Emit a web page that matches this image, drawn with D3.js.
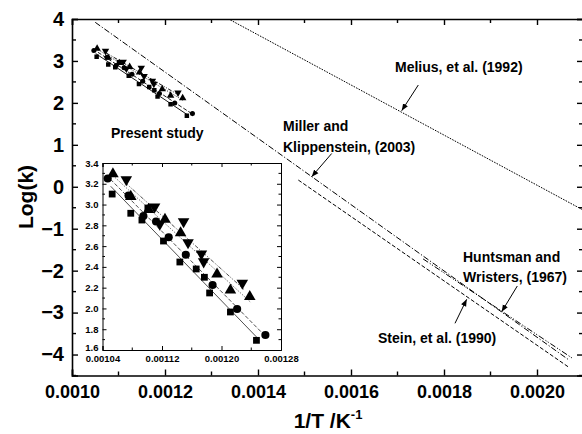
<!DOCTYPE html>
<html><head><meta charset="utf-8">
<script src="https://cdn.jsdelivr.net/npm/d3@7"></script>
<style>
html,body{margin:0;padding:0;background:#fff;}
svg{display:block;font-family:"Liberation Sans",Arial,sans-serif;font-weight:bold;}
</style></head>
<body>
<svg id="c" width="582" height="434"></svg>
<script>
// ---------- data (1/T in K^-1, log k) ----------
const squareData = [[0.001053,3.101],[0.001078,2.916],[0.001093,2.851],[0.001101,2.967],[0.001122,2.649],[0.001144,2.447],[0.001166,2.380],[0.001177,2.300],[0.001184,2.149],[0.001212,1.966],[0.001247,1.693]];
const circleData = [[0.001047,3.251],[0.001075,3.087],[0.001095,2.890],[0.001112,2.837],[0.001129,2.685],[0.001152,2.517],[0.001188,2.226],[0.001221,1.995],[0.001259,1.744]];
const upTriData = [[0.001054,3.294],[0.001078,3.077],[0.001102,2.952],[0.001124,2.858],[0.001145,2.726],[0.001194,2.331],[0.001212,2.175],[0.001238,2.113]];
const downTriData = [[0.001072,3.240],[0.001110,2.979],[0.001117,2.813],[0.001149,2.837],[0.001155,2.635],[0.001173,2.526],[0.001176,2.450],[0.001228,2.245]];

const meliusLine = [[0.00133,4.04],[0.00210,-0.56]];
const millerLine = [[0.00105,3.92],[0.00207,-4.14]];
const huntsmanLine = [[0.001755,-1.72],[0.002075,-4.08]];
const steinLine = [[0.0014867,0.16],[0.0020667,-4.29]];

const xTicksMain = [0.0010,0.0012,0.0014,0.0016,0.0018,0.0020];
const xTickLabelsMain = ["0.0010","0.0012","0.0014","0.0016","0.0018","0.0020"];
const yTicksMain = [-4,-3,-2,-1,0,1,2,3,4];
const xTicksInset = [0.00104,0.00112,0.00120,0.00128];
const xTickLabelsInset = ["0.00104","0.00112","0.00120","0.00128"];
const yTicksInset = [1.6,1.8,2.0,2.2,2.4,2.6,2.8,3.0,3.2,3.4];

const svg = d3.select("#c");

// ---------- scales ----------
const x = d3.scaleLinear().domain([0.0010,0.0021]).range([72,583.5]);
const y = d3.scaleLinear().domain([-4.5,4]).range([375.5,19]);
const xi = d3.scaleLinear().domain([0.00104,0.00128]).range([102.5,281]);
const yi = d3.scaleLinear().domain([1.6,3.4]).range([350,163]);

svg.append("defs").append("clipPath").attr("id","mainclip")
  .append("rect").attr("x",72).attr("y",19).attr("width",511.5).attr("height",356.5);
svg.select("defs").append("marker").attr("id","arr").attr("viewBox","0 0 10 10")
  .attr("refX",10).attr("refY",5).attr("markerWidth",7).attr("markerHeight",7)
  .attr("markerUnits","userSpaceOnUse").attr("orient","auto")
  .append("path").attr("d","M0,1 L10,5 L0,9 Z").attr("fill","#000");

function fit(data){
  const mx=d3.mean(data,d=>d[0]), my=d3.mean(data,d=>d[1]);
  const b=d3.sum(data,d=>(d[0]-mx)*(d[1]-my))/d3.sum(data,d=>(d[0]-mx)**2);
  const a=my-b*mx;
  const x0=d3.min(data,d=>d[0])-0.000002, x1=d3.max(data,d=>d[0])+0.000002;
  return [[x0,a+b*x0],[x1,a+b*x1]];
}

const series = [
  {data:squareData, sym:d3.symbolSquare, rot:0, dash:null},
  {data:circleData, sym:d3.symbolCircle, rot:0, dash:"4,2"},
  {data:upTriData, sym:d3.symbolTriangle, rot:0, dash:"1,1.5"},
  {data:downTriData, sym:d3.symbolTriangle, rot:180, dash:"4,1.5,1,1.5,1,1.5"}
];

// ---------- main plot ----------
const main = svg.append("g").attr("clip-path","url(#mainclip)");
const lineMain = d3.line().x(d=>x(d[0])).y(d=>y(d[1]));
[[meliusLine,"1.6,1.2"],[millerLine,"6,2,1.2,2"],[huntsmanLine,"6,2,1.2,1.5,1.2,2"],[steinLine,"4,2"]].forEach(([l,da])=>{
  main.append("path").attr("d",lineMain(l)).attr("fill","none").attr("stroke","#000")
    .attr("stroke-width",1).attr("stroke-dasharray",da);
});
series.forEach(s=>{
  main.append("path").attr("d",lineMain(fit(s.data))).attr("fill","none").attr("stroke","#000")
    .attr("stroke-width",0.9).attr("stroke-dasharray",s.dash);
  const sizes = s.sym===d3.symbolTriangle?24:20;
  main.selectAll(null).data(s.data).enter().append("path")
    .attr("d",d3.symbol().type(s.sym).size(sizes))
    .attr("transform",d=>`translate(${x(d[0])},${y(d[1])}) rotate(${s.rot})`)
    .attr("fill","#000");
});

// main axes
const axB = d3.axisBottom(x).tickValues(xTicksMain).tickFormat((d,i)=>xTickLabelsMain[i]).tickSize(-6).tickPadding(10);
const gB = svg.append("g").attr("transform","translate(0,375.5)").call(axB);
const axL = d3.axisLeft(y).tickValues(yTicksMain).tickFormat(d3.format("d")).tickSize(-6).tickPadding(8);
const gL = svg.append("g").attr("transform","translate(72,0)").call(axL);
const gT = svg.append("g").attr("transform","translate(0,19)").call(d3.axisTop(x).tickValues(xTicksMain).tickSize(-6).tickFormat(""));
const gR = svg.append("g").attr("transform","translate(583,0)").call(d3.axisRight(y).tickValues(yTicksMain).tickSize(-6).tickFormat(""));
// minor ticks
const xMinor = d3.range(0.0011,0.0021,0.0002);
const yMinor = d3.range(-4.5,4,1);
xMinor.forEach(v=>{
  svg.append("line").attr("x1",x(v)).attr("x2",x(v)).attr("y1",375.5).attr("y2",371.5).attr("stroke","#000").attr("stroke-width",1.4);
  svg.append("line").attr("x1",x(v)).attr("x2",x(v)).attr("y1",19).attr("y2",23).attr("stroke","#000").attr("stroke-width",1.4);
});
yMinor.forEach(v=>{
  svg.append("line").attr("x1",72).attr("x2",76).attr("y1",y(v)).attr("y2",y(v)).attr("stroke","#000").attr("stroke-width",1.4);
  svg.append("line").attr("x1",583).attr("x2",579).attr("y1",y(v)).attr("y2",y(v)).attr("stroke","#000").attr("stroke-width",1.4);
});
[gB,gL,gT,gR].forEach(g=>{
  g.select(".domain").attr("stroke-width",1.6);
  g.selectAll(".tick line").attr("stroke-width",1.4);
  g.selectAll("text").attr("font-family","Liberation Sans, Arial, sans-serif").attr("font-weight","bold").attr("fill","#000");
});
gB.selectAll("text").attr("font-size",18);
gL.selectAll("text").attr("font-size",20);

// axis titles
svg.append("text").attr("transform","translate(33,197) rotate(-90)").attr("text-anchor","middle")
  .attr("font-size",21).text("Log(k)");
const xt = svg.append("text").attr("x",328).attr("y",428).attr("text-anchor","middle").attr("font-size",21);
xt.append("tspan").text("1/T /K");
xt.append("tspan").attr("dy",-9).attr("font-size",13).text("-1");

// annotations
const ann = svg.append("g").attr("font-size",14);
ann.append("text").attr("x",111).attr("y",138).text("Present study");
ann.append("text").attr("x",395).attr("y",71.5).text("Melius, et al. (1992)");
ann.append("text").attr("x",283).attr("y",131).text("Miller and");
ann.append("text").attr("x",283).attr("y",151.5).text("Klippenstein, (2003)");
ann.append("text").attr("x",463).attr("y",262).text("Huntsman and");
ann.append("text").attr("x",463).attr("y",282).text("Wristers, (1967)");
ann.append("text").attr("x",378).attr("y",342.5).text("Stein, et al. (1990)");
const arrows = [[[418.3,85],[401.7,110.7]],[[331.7,153.5],[311.7,176.7]],[[517.3,286],[501.7,311.7]],[[455,323.3],[466.7,299.3]]];
arrows.forEach(a=>{
  svg.append("line").attr("x1",a[0][0]).attr("y1",a[0][1]).attr("x2",a[1][0]).attr("y2",a[1][1])
    .attr("stroke","#000").attr("stroke-width",1).attr("marker-end","url(#arr)");
});

// ---------- inset ----------
const ins = svg.append("g");
ins.append("rect").attr("x",102.5).attr("y",163).attr("width",178.5).attr("height",187).attr("fill","#fff");
ins.append("clipPath").attr("id","inclip").append("rect").attr("x",102.5).attr("y",163).attr("width",178.5).attr("height",187);
const inPlot = ins.append("g").attr("clip-path","url(#inclip)");
const lineIn = d3.line().x(d=>xi(d[0])).y(d=>yi(d[1]));
series.forEach(s=>{
  inPlot.append("path").attr("d",lineIn(fit(s.data))).attr("fill","none").attr("stroke","#222")
    .attr("stroke-width",0.8).attr("stroke-dasharray",s.dash);
});
series.forEach(s=>{
  const sz = s.sym===d3.symbolTriangle?58:(s.sym===d3.symbolSquare?46:52);
  ins.selectAll(null).data(s.data).enter().append("path")
    .attr("d",d3.symbol().type(s.sym).size(sz))
    .attr("transform",d=>`translate(${xi(d[0])},${yi(d[1])}) rotate(${s.rot})`)
    .attr("fill","#000");
});
const iB = ins.append("g").attr("transform","translate(0,350)")
  .call(d3.axisBottom(xi).tickValues(xTicksInset).tickFormat((d,i)=>xTickLabelsInset[i]).tickSize(-4).tickPadding(5));
const iL = ins.append("g").attr("transform","translate(102.5,0)")
  .call(d3.axisLeft(yi).tickValues(yTicksInset).tickFormat(d3.format(".1f")).tickSize(-4).tickPadding(4));
const iT = ins.append("g").attr("transform","translate(0,163)").call(d3.axisTop(xi).tickValues(xTicksInset).tickSize(-4).tickFormat(""));
const iR = ins.append("g").attr("transform","translate(281,0)").call(d3.axisRight(yi).tickValues(yTicksInset).tickSize(-4).tickFormat(""));
d3.range(0.00108,0.00128,0.00008).forEach(v=>{
  ins.append("line").attr("x1",xi(v)).attr("x2",xi(v)).attr("y1",350).attr("y2",347.5).attr("stroke","#000");
  ins.append("line").attr("x1",xi(v)).attr("x2",xi(v)).attr("y1",163).attr("y2",165.5).attr("stroke","#000");
});
d3.range(1.7,3.4,0.2).forEach(v=>{
  ins.append("line").attr("x1",102.5).attr("x2",105).attr("y1",yi(v)).attr("y2",yi(v)).attr("stroke","#000");
  ins.append("line").attr("x1",281).attr("x2",278.5).attr("y1",yi(v)).attr("y2",yi(v)).attr("stroke","#000");
});
[iB,iL,iT,iR].forEach(g=>{
  g.select(".domain").attr("stroke-width",1);
  g.selectAll("text").attr("font-family","Liberation Sans, Arial, sans-serif").attr("font-weight","bold").attr("font-size",9.5).attr("fill","#000");
});
// lift the lowest inset y label slightly, as in the reference
iL.selectAll(".tick text").filter(d=>d===1.6).attr("dy","0.1em");
</script>
</body></html>
